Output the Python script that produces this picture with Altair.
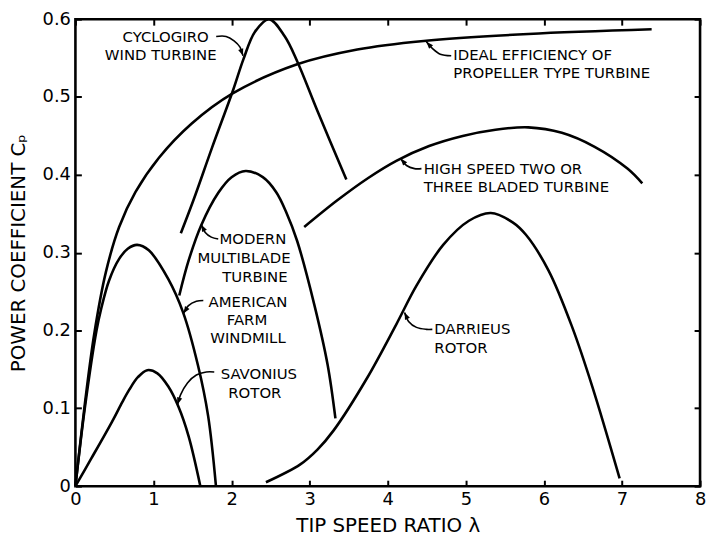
import math
import altair as alt
import pandas as pd

FONT = "DejaVu Sans"
W, H = 630, 471
X_MAX, Y_MAX = 8, 0.6

# ---------------- curves (tip speed ratio, power coefficient) ----------------
ideal_x = [0, 0.12, 0.24, 0.39, 0.56, 0.77, 1.07, 1.49, 2.02, 2.84, 3.61, 4.46, 5.8, 7.38]
ideal_y = [0, 0.105, 0.195, 0.275, 0.333, 0.378, 0.422, 0.466, 0.505, 0.542, 0.561, 0.572, 0.581, 0.587]

cyclo_x = [1.35, 1.51, 1.75, 2.02, 2.15, 2.30, 2.48, 2.68, 2.84, 3.10, 3.47]
cyclo_y = [0.325, 0.367, 0.435, 0.509, 0.548, 0.584, 0.600, 0.578, 0.546, 0.482, 0.394]

modern_x = [1.33, 1.45, 1.61, 1.83, 2.0, 2.18, 2.4, 2.57, 2.7, 2.84, 3.06, 3.23, 3.33]
modern_y = [0.245, 0.29, 0.335, 0.377, 0.397, 0.405, 0.397, 0.378, 0.352, 0.315, 0.233, 0.156, 0.087]

american_x = [0, 0.12, 0.27, 0.33, 0.43, 0.56, 0.67, 0.79, 0.94, 1.19, 1.38, 1.57, 1.70, 1.80]
american_y = [0, 0.10, 0.20, 0.228, 0.264, 0.292, 0.305, 0.31, 0.303, 0.266, 0.223, 0.155, 0.09, 0.0]

savonius_x = [0, 0.2, 0.47, 0.6, 0.69, 0.8, 0.92, 1.05, 1.19, 1.32, 1.45, 1.6]
savonius_y = [0, 0.035, 0.083, 0.108, 0.124, 0.140, 0.149, 0.145, 0.128, 0.102, 0.064, 0.0]

highspeed_x = [2.93, 3.35, 3.75, 4.11, 4.53, 4.96, 5.38, 5.8, 6.23, 6.65, 7.07, 7.26]
highspeed_y = [0.333, 0.367, 0.396, 0.418, 0.437, 0.45, 0.458, 0.461, 0.454, 0.436, 0.408, 0.389]

darrieus_x = [2.44, 2.88, 3.1, 3.31, 3.73, 4.11, 4.37, 4.71, 5.04, 5.32, 5.6, 5.77, 6.06, 6.36, 6.62, 6.97]
darrieus_y = [0.005, 0.028, 0.047, 0.072, 0.138, 0.208, 0.258, 0.31, 0.341, 0.351, 0.339, 0.323, 0.277, 0.205, 0.128, 0.01]

curves = {
    "ideal": (ideal_x, ideal_y),
    "cyclogiro": (cyclo_x, cyclo_y),
    "modern": (modern_x, modern_y),
    "american": (american_x, american_y),
    "savonius": (savonius_x, savonius_y),
    "highspeed": (highspeed_x, highspeed_y),
    "darrieus": (darrieus_x, darrieus_y),
}

# ---------------- leader lines (first point touches the curve) ----------------
lead_cyclo_x = [2.146, 2.108, 2.032, 1.930, 1.803]
lead_cyclo_y = [0.553, 0.5640, 0.572, 0.5778, 0.5778]
lead_ideal_x = [4.495, 4.571, 4.673, 4.813]
lead_ideal_y = [0.571, 0.5625, 0.555, 0.553]
lead_high_x = [4.165, 4.241, 4.343, 4.432]
lead_high_y = [0.421, 0.412, 0.408, 0.408]
lead_modern_x = [1.613, 1.663, 1.740, 1.829]
lead_modern_y = [0.336, 0.326, 0.320, 0.3176]
lead_amer_x = [1.384, 1.448, 1.549, 1.638]
lead_amer_y = [0.222, 0.2320, 0.2375, 0.2385]
lead_savo_x = [1.308, 1.346, 1.435, 1.549, 1.676, 1.778]
lead_savo_y = [0.105, 0.1173, 0.1327, 0.1429, 0.1467, 0.1467]
lead_darr_x = [4.216, 4.267, 4.368, 4.495, 4.571]
lead_darr_y = [0.2232, 0.2117, 0.204, 0.2015, 0.2015]

leaders = {
    "cyclogiro": (lead_cyclo_x, lead_cyclo_y),
    "ideal": (lead_ideal_x, lead_ideal_y),
    "highspeed": (lead_high_x, lead_high_y),
    "modern": (lead_modern_x, lead_modern_y),
    "american": (lead_amer_x, lead_amer_y),
    "savonius": (lead_savo_x, lead_savo_y),
    "darrieus": (lead_darr_x, lead_darr_y),
}

# ---------------- annotation text, one row per line ----------------
label_text = ["CYCLOGIRO", "WIND TURBINE",
              "IDEAL EFFICIENCY OF", "PROPELLER TYPE TURBINE",
              "HIGH SPEED TWO OR", "THREE BLADED TURBINE",
              "MODERN", "MULTIBLADE", "TURBINE",
              "AMERICAN", "FARM", "WINDMILL",
              "SAVONIUS", "ROTOR",
              "DARRIEUS", "ROTOR"]
label_x = [1.156, 1.092,
           4.84, 4.84,
           4.46, 4.46,
           2.273, 2.159, 2.298,
           2.21, 2.197, 2.21,
           2.349, 2.298,
           4.597, 4.597]
label_y = [0.5775, 0.5536,
           0.5545, 0.5305,
           0.4075, 0.3845,
           0.317, 0.2934, 0.2691,
           0.2372, 0.213, 0.190,
           0.1435, 0.1195,
           0.2020, 0.1780]
label_align = ["center", "center",
               "left", "left",
               "left", "left",
               "center", "center", "center",
               "center", "center", "center",
               "center", "center",
               "left", "left"]

x_ticks = [0, 1, 2, 3, 4, 5, 6, 7, 8]
y_ticks = [0, 0.1, 0.2, 0.3, 0.4, 0.5, 0.6]

# ---------------- tables ----------------
curve_rows = []
for name, (xs, ys) in curves.items():
    for i, (xv, yv) in enumerate(zip(xs, ys)):
        curve_rows.append({"series": name, "x": xv, "y": yv, "i": i})
curve_df = pd.DataFrame(curve_rows)

lead_rows = []
arrow_rows = []
px_x = W / X_MAX
px_y = H / Y_MAX
for name, (xs, ys) in leaders.items():
    for i, (xv, yv) in enumerate(zip(xs, ys)):
        lead_rows.append({"series": name, "x": xv, "y": yv, "i": i})
    dx = (xs[0] - xs[1]) * px_x
    dy_screen = -(ys[0] - ys[1]) * px_y
    ang = math.degrees(math.atan2(dx, -dy_screen)) % 360
    arrow_rows.append({"series": name, "x": xs[0], "y": ys[0], "angle": ang})
lead_df = pd.DataFrame(lead_rows)
arrow_df = pd.DataFrame(arrow_rows)

label_df = pd.DataFrame({"text": label_text, "x": label_x, "y": label_y, "align": label_align})

xscale = alt.Scale(domain=[0, X_MAX], nice=False, zero=False)
yscale = alt.Scale(domain=[0, Y_MAX], nice=False, zero=False)

axis_common = dict(domain=False, grid=False, offset=-6, tickSize=6, tickColor="black",
                   tickWidth=2, labelFont=FONT, labelFontSize=18, labelColor="black",
                   titleFont=FONT, titleFontSize=20, titleFontWeight="normal",
                   titleColor="black", labelFlush=False)

x_axis = alt.Axis(orient="bottom", values=x_ticks, format="d", labelPadding=4,
                  title="TIP SPEED RATIO λ", titlePadding=8, **axis_common)
y_axis = alt.Axis(orient="left", values=y_ticks, labelPadding=5,
                  labelExpr="datum.value == 0 ? '0' : format(datum.value, '.1f')",
                  title="POWER COEFFICIENT Cₚ", titlePadding=14, **axis_common)
x_axis_top = alt.Axis(orient="top", values=x_ticks, labels=False, title="", **axis_common)
y_axis_right = alt.Axis(orient="right", values=y_ticks, labels=False, title="", **axis_common)

curves_layer = alt.Chart(curve_df).mark_line(
    interpolate="catmull-rom", color="black", strokeWidth=2.6
).encode(
    x=alt.X("x:Q", scale=xscale, axis=x_axis),
    y=alt.Y("y:Q", scale=yscale, axis=y_axis),
    detail="series:N",
    order="i:Q",
)

frame_layer = alt.Chart(curve_df).mark_line(opacity=0).encode(
    x=alt.X("x:Q", scale=xscale, axis=x_axis_top),
    y=alt.Y("y:Q", scale=yscale, axis=y_axis_right),
    detail="series:N",
)

leader_layer = alt.Chart(lead_df).mark_line(
    interpolate="catmull-rom", color="black", strokeWidth=1.6
).encode(
    x=alt.X("x:Q", scale=xscale, axis=None),
    y=alt.Y("y:Q", scale=yscale, axis=None),
    detail="series:N",
    order="i:Q",
)

arrow_layer = alt.Chart(arrow_df).mark_point(
    shape="M0,0L0.38,1L-0.38,1Z", filled=True, color="black", opacity=1, size=200, strokeWidth=0
).encode(
    x=alt.X("x:Q", scale=xscale, axis=None),
    y=alt.Y("y:Q", scale=yscale, axis=None),
    angle=alt.Angle("angle:Q", scale=None),
)

text_center = alt.Chart(label_df).transform_filter(
    alt.datum.align == "center"
).mark_text(font=FONT, fontSize=15, color="black", align="center", baseline="middle").encode(
    x=alt.X("x:Q", scale=xscale, axis=None),
    y=alt.Y("y:Q", scale=yscale, axis=None),
    text="text:N",
)
text_left = alt.Chart(label_df).transform_filter(
    alt.datum.align == "left"
).mark_text(font=FONT, fontSize=15, color="black", align="left", baseline="middle").encode(
    x=alt.X("x:Q", scale=xscale, axis=None),
    y=alt.Y("y:Q", scale=yscale, axis=None),
    text="text:N",
)

chart = alt.layer(
    frame_layer, curves_layer, leader_layer, arrow_layer, text_center, text_left
).resolve_axis(
    x="independent", y="independent"
).properties(
    width=W, height=H,
    autosize=alt.AutoSizeParams(type="none"),
    padding={"left": 68, "top": 9, "right": 6, "bottom": 50},
    background="white",
).configure_view(
    stroke="black", strokeWidth=2.6
)

chart.save("out.html", embed_options={"renderer": "svg", "actions": False})
